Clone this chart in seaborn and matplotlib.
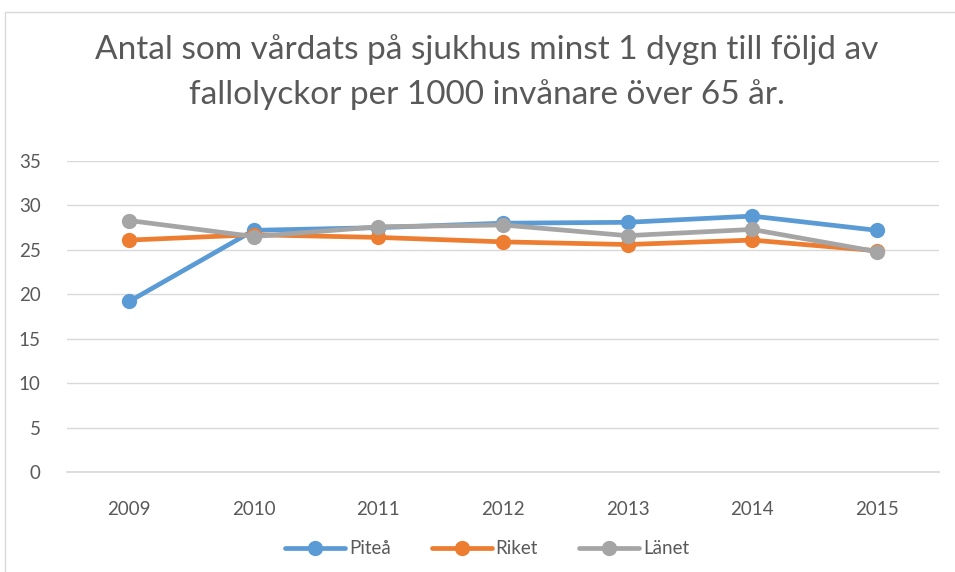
import seaborn as sns
import matplotlib.pyplot as plt
import pandas as pd
from matplotlib.lines import Line2D

# Värden
ar = [2009, 2010, 2011, 2012, 2013, 2014, 2015]
pitea = [19.2, 27.2, 27.5, 28.0, 28.1, 28.8, 27.2]
riket = [26.1, 26.7, 26.4, 25.9, 25.6, 26.1, 24.9]
lanet = [28.3, 26.5, 27.6, 27.8, 26.6, 27.3, 24.8]

serier = ["Piteå", "Riket", "Länet"]
farger = ["#5B9BD5", "#ED7D31", "#A5A5A5"]

df = pd.DataFrame({
    "År": ar * 3,
    "Värde": pitea + riket + lanet,
    "Serie": [s for s in serier for _ in ar],
})

sns.set_theme(style="white")
plt.rcParams["font.family"] = ["Lato", "DejaVu Sans"]

fig = plt.figure(figsize=(9.55, 5.72), dpi=100)
ax = fig.add_axes([67 / 955, 1 - 472 / 572, 872 / 955, 311 / 572])

sns.lineplot(
    data=df, x="År", y="Värde", hue="Serie", hue_order=serier,
    palette=farger, marker="o", markersize=11, markeredgewidth=0,
    linewidth=3.4, ax=ax, legend=False,
)

ax.set_xlim(2008.5, 2015.5)
ax.set_ylim(0, 35)
ax.set_yticks(range(0, 36, 5))
ax.set_xticks(ar)
ax.set_xlabel("")
ax.set_ylabel("")
ax.yaxis.grid(True, color="#D9D9D9", linewidth=1)
ax.xaxis.grid(False)
for s in ax.spines.values():
    s.set_visible(False)
ax.spines["bottom"].set_visible(True)
ax.spines["bottom"].set_color("#D9D9D9")
ax.tick_params(axis="both", colors="#595959", labelsize=13.5, length=0)
ax.tick_params(axis="x", pad=21)
ax.tick_params(axis="y", pad=19)

fig.text(0.51, 1 - 50 / 572, "Antal som vårdats på sjukhus minst 1 dygn till följd av",
         ha="center", va="center", fontsize=24, color="#595959")
fig.text(0.51, 1 - 95 / 572, "fallolyckor per 1000 invånare över 65 år.",
         ha="center", va="center", fontsize=24, color="#595959")

handtag = [Line2D([0], [0], color=f, lw=3.4, marker="o", markersize=11,
                  markeredgewidth=0) for f in farger]
fig.legend(handtag, serier, loc="center", bbox_to_anchor=(0.51, 1 - 549 / 572),
           ncol=3, frameon=False, fontsize=13.5, labelcolor="#595959",
           handlelength=3.2, handletextpad=0.2, columnspacing=2.2)

# Ram runt diagrammet (bara vänster och övre kant syns)
fig.add_artist(Line2D([5 / 955, 5 / 955], [0, 1 - 12 / 572], color="#D9D9D9", lw=1))
fig.add_artist(Line2D([5 / 955, 1], [1 - 12 / 572, 1 - 12 / 572], color="#D9D9D9", lw=1))

fig.savefig("out.png", dpi=100, facecolor="white")
